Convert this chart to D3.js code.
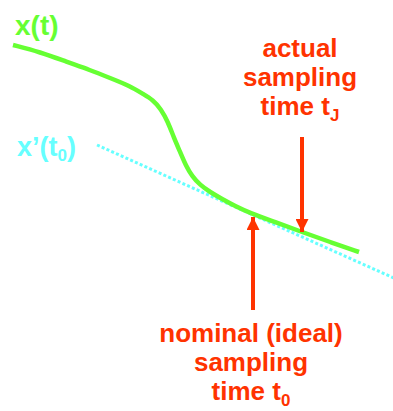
<!DOCTYPE html>
<html lang="en">
<head>
    <meta charset="UTF-8">
    <title>Sampling jitter</title>
    <script src="https://d3js.org/d3.v7.min.js"></script>
    <style>
        body { margin: 0; background: #fff; }
        svg text { font-family: "Liberation Sans", Arial, sans-serif; font-weight: bold; }
    </style>
</head>
<body>
    <div id="chart"></div>
    <script>
        // signal x(t): time and amplitude (arbitrary units, 0..100)
        const signalT = [3.25, 10, 16.75, 22.5, 27.5, 32.5, 35.75, 38.25, 40.25, 42, 43.5, 45, 46.5, 48, 50, 52.5, 55.5, 58.75, 62.5, 68.75, 75.5, 82.5, 89.75];
        const signalV = [88.75, 87, 84.5, 82.5, 80.5, 78.5, 76.5, 75, 72.75, 69.5, 65.5, 62.1, 58.5, 56, 53.75, 52, 50.25, 48.5, 46.75, 44.5, 42, 39.5, 37];

        // tangent x'(t0)
        const tangentT = [24.25, 99];
        const tangentV = [63.75, 30.25];

        // sampling instants
        const t0 = 63.25, tJ = 75.5;
        const nominalArrow = [22.5, 45.75];   // from, to (amplitude)
        const actualArrow = [65.75, 42];

        const topLabel = ["actual", "sampling", "time t"];
        const bottomLabel = ["nominal (ideal)", "sampling", "time t"];

        const width = 393, height = 411;
        const green = "#66ff33", cyan = "#66ffff", red = "#ff3300";

        const x = d3.scaleLinear().domain([0, 100]).range([0, 400]);
        const y = d3.scaleLinear().domain([0, 100]).range([400, 0]);

        const svg = d3.select("#chart").append("svg")
            .attr("width", width)
            .attr("height", height);

        svg.append("defs").append("marker")
            .attr("id", "head")
            .attr("viewBox", "0 0 10 10")
            .attr("refX", 10).attr("refY", 5)
            .attr("markerWidth", 13).attr("markerHeight", 13)
            .attr("markerUnits", "userSpaceOnUse")
            .attr("orient", "auto")
            .append("path")
            .attr("d", "M0,0 L10,5 L0,10 Z")
            .attr("fill", red);

        const line = d3.line().x(d => x(d[0])).y(d => y(d[1]));

        // tangent (dotted)
        svg.append("path")
            .attr("d", line(d3.zip(tangentT, tangentV)))
            .attr("fill", "none")
            .attr("stroke", cyan)
            .attr("stroke-width", 3)
            .attr("stroke-dasharray", "3,2.2");

        // signal
        svg.append("path")
            .attr("d", line.curve(d3.curveBasis)(d3.zip(signalT, signalV)))
            .attr("fill", "none")
            .attr("stroke", green)
            .attr("stroke-width", 4.5)
            .attr("stroke-linejoin", "round");

        // arrows
        [[tJ, actualArrow], [t0, nominalArrow]].forEach(([t, a]) => {
            svg.append("line")
                .attr("x1", x(t)).attr("x2", x(t))
                .attr("y1", y(a[0])).attr("y2", y(a[1]))
                .attr("stroke", red)
                .attr("stroke-width", 4)
                .attr("marker-end", "url(#head)");
        });

        // labels
        svg.append("text")
            .attr("x", 15).attr("y", 35)
            .attr("fill", green)
            .style("font-size", "28px")
            .text("x(t)");

        const xp = svg.append("text")
            .attr("x", 17).attr("y", 156)
            .attr("fill", cyan)
            .style("font-size", "27px");
        xp.append("tspan").text("x\u2019(t");
        xp.append("tspan").attr("dy", 5).style("font-size", "17px").text("0");
        xp.append("tspan").attr("dy", -5).text(")");

        function block(lines, cx, y0, sub) {
            const g = svg.append("g").attr("fill", red).style("font-size", "26px");
            lines.forEach((s, i) => {
                const t = g.append("text")
                    .attr("x", cx).attr("y", y0 + i * 29)
                    .attr("text-anchor", "middle");
                t.append("tspan").text(s);
                if (i === lines.length - 1) {
                    t.append("tspan").attr("dy", 6).style("font-size", "17px").text(sub);
                }
            });
        }
        block(topLabel, 300, 57, "J");
        block(bottomLabel, 251, 342, "0");
    </script>
</body>
</html>
